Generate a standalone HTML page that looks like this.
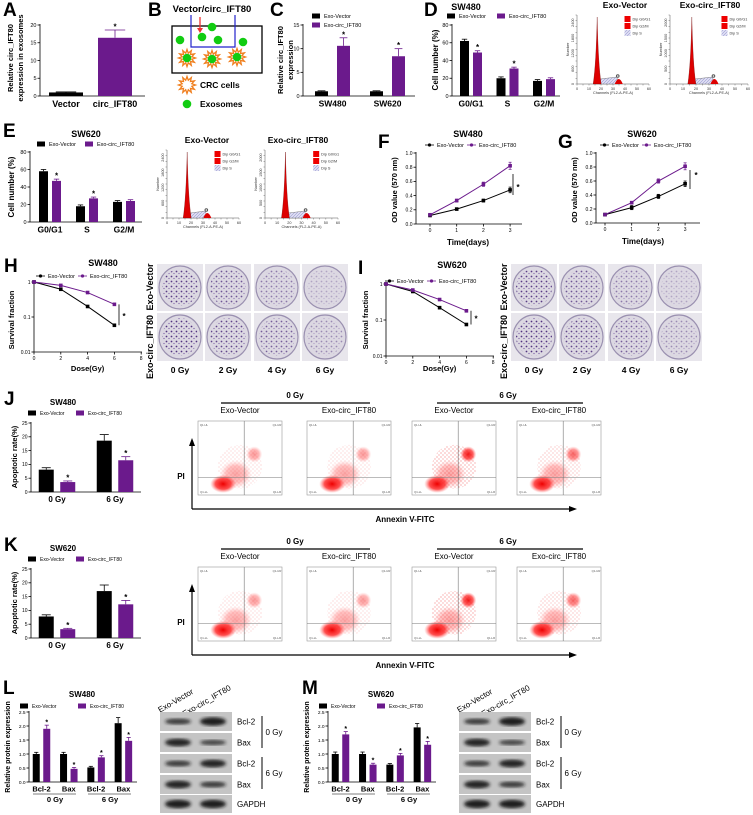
<!DOCTYPE html>
<html><head><meta charset="utf-8"><style>
html,body{margin:0;padding:0;background:#fff;}
svg{display:block;font-family:"Liberation Sans",Arial,sans-serif;}
</style></head><body>
<svg id="fig" width="753" height="815" viewBox="0 0 753 815" xmlns="http://www.w3.org/2000/svg">
<defs>
<filter id="blur1"><feGaussianBlur stdDeviation="1.6"/></filter>
<pattern id="col" width="5" height="5" patternUnits="userSpaceOnUse"><circle cx="1.5" cy="1.5" r="0.9" fill="#4a2a7a"/><circle cx="4" cy="3.5" r="0.6" fill="#6a4a9a"/></pattern>
<pattern id="hatch" width="3" height="3" patternUnits="userSpaceOnUse"><rect width="3" height="3" fill="#dcdcf2"/><path d="M0,3L3,0" stroke="#8a8ac8" stroke-width="0.5"/></pattern>
<pattern id="dots" width="4" height="4" patternUnits="userSpaceOnUse"><circle cx="1" cy="1" r="0.5" fill="#e22"/><circle cx="3" cy="3" r="0.45" fill="#e22"/></pattern>
<radialGradient id="redblob"><stop offset="0" stop-color="#e00" stop-opacity="1"/><stop offset="0.6" stop-color="#f22" stop-opacity="0.8"/><stop offset="1" stop-color="#f66" stop-opacity="0"/></radialGradient>
</defs>
</svg>
<script>
// ===== data =====
const aCats=["Vector","circ_IFT80"], aVals=[1,16.4], aErr=[0.15,2.2], aStars=[0,1];
const cCats=["SW480","SW620"], cVec=[1,1], cVecErr=[0.1,0.1], cCirc=[10.6,8.4], cCircErr=[1.7,1.6], cStars=[1,1];
const dCats=["G0/G1","S","G2/M"], dVec=[62,20,17], dVecErr=[2,1.5,1.5], dCirc=[49,31,19], dCircErr=[2,1.5,1.5], dStars=[1,1,0];
const eCats=["G0/G1","S","G2/M"], eVec=[58,18,23], eVecErr=[2,1.5,1.5], eCirc=[47,27,24], eCircErr=[2,1.5,1.5], eStars=[1,1,0];
const fDays=[0,1,2,3], fVec=[0.12,0.21,0.33,0.48], fVecErr=[0.01,0.01,0.02,0.04], fCirc=[0.13,0.33,0.56,0.82], fCircErr=[0.01,0.02,0.03,0.05];
const gDays=[0,1,2,3], gVec=[0.12,0.22,0.38,0.56], gVecErr=[0.01,0.03,0.03,0.04], gCirc=[0.12,0.29,0.6,0.81], gCircErr=[0.01,0.02,0.03,0.05];
const hDose=[0,2,4,6], hVec=[1,0.62,0.2,0.058], hCirc=[1,0.8,0.5,0.23];
const iDose=[0,2,4,6], iVec=[1,0.62,0.22,0.075], iCirc=[1,0.68,0.37,0.18];
const jCats=["0 Gy","6 Gy"], jVec=[8.1,18.6], jVecErr=[0.7,2.2], jCirc=[3.6,11.5], jCircErr=[0.4,1.3];
const kCats=["0 Gy","6 Gy"], kVec=[7.8,17], kVecErr=[0.6,2.2], kCirc=[3.2,12.2], kCircErr=[0.3,1.4];
const lCats=["Bcl-2","Bax","Bcl-2","Bax"], lVec=[1,1,0.52,2.1], lVecErr=[0.06,0.06,0.04,0.2], lCirc=[1.9,0.47,0.88,1.47], lCircErr=[0.13,0.05,0.06,0.12];
const mCats=["Bcl-2","Bax","Bcl-2","Bax"], mVec=[1,1,0.62,1.95], mVecErr=[0.07,0.07,0.04,0.14], mCirc=[1.7,0.62,0.95,1.33], mCircErr=[0.1,0.05,0.07,0.12];
const colonyDensity=[[0.9,0.75,0.55,0.3],[0.95,0.85,0.7,0.45]];
const PUR="#6b1a8c";
// ===== helpers =====
const NS='http://www.w3.org/2000/svg';
const svg=document.getElementById('fig');
function mk(tag,name,parent){
  const e=document.createElementNS(NS,tag);
  
  
  (parent||svg).appendChild(e);return e;}
function at(e,o){for(const k in o)e.setAttribute(k,o[k]);return e;}
function T(x,y,s,txt,name,o={}){const e=mk('text',name);at(e,{x:x,y:y,'font-size':s,'text-anchor':o.a||'middle','font-weight':o.w||'bold',fill:o.c||'#000'});
  if(o.r!==undefined)e.setAttribute('transform','rotate('+o.r+' '+x+' '+y+')');e.textContent=txt;return e;}
function L(x1,y1,x2,y2,name,sw,c){return at(mk('line',name),{x1:x1,y1:y1,x2:x2,y2:y2,stroke:c||'#000','stroke-width':sw||0.8});}
function R(x,y,w,h,fill,name){return at(mk('rect',name),{x:x,y:y,width:w,height:h,fill:fill});}
function C(x,y,r,fill,name){return at(mk('circle',name),{cx:x,cy:y,r:r,fill:fill});}
function letter(x,y,t){T(x,y,19,t,'panel-label-'+t.toLowerCase(),{a:'start'});}
function yAxis(ax,top,bot,min,max,ticks,fs,log,dec){
  const ys=v=>log?bot-(Math.log10(v)-Math.log10(min))/(Math.log10(max)-Math.log10(min))*(bot-top):bot-(v-min)/(max-min)*(bot-top);
  L(ax,top-1,ax,bot,'y-axis-line');
  ticks.forEach(t=>{const y=ys(t);L(ax-2.5,y,ax,y,'y-tick');T(ax-3.5,y+1.8,fs,dec?t.toFixed(dec):String(t),'y-tick-label',{a:'end',w:'normal'});});
  return ys;}
function legend(x,y,name1,name2,dx,fs,line,dy){
  [[name1,'#000'],[name2,PUR]].forEach((p,i)=>{const xx=x+i*dx, yy=y+i*(dy||0);
    if(line){L(xx,yy,xx+9,yy,'legend-line',0.8,p[1]);C(xx+4.5,yy,1.6,p[1],'legend-marker');}
    else R(xx,yy-2.5,8,5,p[1],'legend-swatch');
    T(xx+12,yy+2,fs,p[0],'legend-entry',{a:'start',w:'normal'});});}
function bars(c){
  const ys=yAxis(c.ax,c.top,c.bot,0,c.max,c.ticks,c.tfs||5.5,false,c.dec);
  L(c.ax,c.bot,c.ax+c.w,c.bot,'x-axis-line');
  c.series.forEach((s,si)=>{s.vals.forEach((v,i)=>{
    const cx=c.ax+c.off+i*c.gap+(si-(c.series.length-1)/2)*c.sep;
    const col=s.colors?s.colors[i]:s.color;
    const b=R(cx-c.bw/2,ys(v),c.bw,c.bot-ys(v),col,'bar');
    
    const ye=ys(v+s.err[i]);
    L(cx,ys(v),cx,ye,'error-bar',0.8,col);L(cx-c.bw*0.3,ye,cx+c.bw*0.3,ye,'error-cap',0.8,col);
    if(s.stars&&s.stars[i])T(cx,ye-0.5,c.sfs||8,'*','significance-star',{w:'bold'});
  });});
  c.cats.forEach((t,i)=>T(c.ax+c.off+i*c.gap,c.bot+c.lfs+2,c.lfs,t,'category-label'));
}
function lines(c){
  const ys=yAxis(c.ax,c.top,c.bot,c.min,c.max,c.ticks,5,c.log,c.dec);
  const xs=v=>c.x0+v*c.dx;
  L(c.ax,c.bot,c.xend,c.bot,'x-axis-line');
  c.xt.forEach(t=>{L(xs(t),c.bot,xs(t),c.bot+2.5,'x-tick');T(xs(t),c.bot+8,5,String(t),'x-tick-label',{w:'normal'});});
  c.series.forEach((s,si)=>{
    const pts=c.xv.map((x,i)=>xs(x)+','+ys(s.vals[i])).join(' ');
    at(mk('polyline',c.name+'-line-'+si),{points:pts,fill:'none',stroke:s.color,'stroke-width':1});
    c.xv.forEach((x,i)=>{
      if(s.err){const y1=ys(s.vals[i]+s.err[i]),y2=ys(s.vals[i]-s.err[i]);L(xs(x),y1,xs(x),y2,'error-bar',0.7,s.color);L(xs(x)-1.5,y1,xs(x)+1.5,y1,'error-cap',0.7,s.color);L(xs(x)-1.5,y2,xs(x)+1.5,y2,'error-cap',0.7,s.color);}
      const m=R(xs(x)-1.8,ys(s.vals[i])-1.8,3.6,3.6,s.color,'point');
      
    });});
  return {xs:xs,ys:ys};
}
// ===== A =====
letter(3,16,'A');
bars({name:'a',ax:40,top:25,bot:96,w:105,max:20,ticks:[0,5,10,15,20],off:26,gap:49,sep:0,bw:34,lfs:9,cats:aCats,
  series:[{vals:aVals,err:aErr,colors:['#000',PUR],stars:aStars}]});
T(13,58,7.5,'Relative circ_IFT80','y-axis-title',{r:-90});T(23,58,7.5,'expression in exosomes','y-axis-title',{r:-90});
// ===== B =====
letter(148,16,'B');
T(212,12,9.5,'Vector/circ_IFT80','insert-label');
at(mk('rect','culture-well'),{x:172,y:26,width:90,height:47,fill:'none',stroke:'#000','stroke-width':1.3});
at(mk('path','transwell-insert'),{d:'M191,15 V47 H235 V15',fill:'none',stroke:'#22c','stroke-width':1.2});
L(200,17,200,29,'red-arrow',1.3,'#e33');at(mk('path','arrow-head'),{d:'M197,28 L200,33 L203,28Z',fill:'#e33'});
[[180,40],[202,37],[212,27],[218,40],[243,42]].forEach(p=>C(p[0],p[1],4.3,'#1c1','exosome'));
function cell(x,y,name){let d='';for(let i=0;i<24;i++){const a=i*Math.PI/12,r=i%2?5:8.5;d+=(i?'L':'M')+(x+r*Math.cos(a)).toFixed(1)+','+(y+r*Math.sin(a)).toFixed(1);}
  at(mk('path',name),{d:d+'Z',fill:'#fff',stroke:'#f08020','stroke-width':1.3});}
[[187,58],[212,59],[237,57]].forEach(p=>{cell(p[0],p[1],'crc-cell');C(p[0],p[1],4.3,'#1c1','exosome');});
cell(187,85,'legend-crc-cell');T(200,88,8.5,'CRC cells','legend-crc-label',{a:'start'});
C(187,104,4.3,'#1c1','legend-exosome');T(200,107,8.5,'Exosomes','legend-exosome-label',{a:'start'});
// ===== C =====
letter(270,16,'C');
legend(312,16,'Exo-Vector','Exo-circ_IFT80',0,5.5,false,9);
bars({name:'c',ax:303,top:25,bot:96,w:112,max:15,ticks:[0,5,10,15],off:29.5,gap:55,sep:22,bw:13,lfs:8.5,cats:cCats,
  series:[{vals:cVec,err:cVecErr,color:'#000'},{vals:cCirc,err:cCircErr,color:PUR,stars:cStars}]});
T(283,60,7.5,'Relative circ_IFT80','y-axis-title',{r:-90});T(293,60,7.5,'expression','y-axis-title',{r:-90});
// ===== D =====
letter(424,16,'D');
T(466,10,9,'SW480','chart-title');
legend(447,16,'Exo-Vector','Exo-circ_IFT80',50,5.5,false);
bars({name:'d',ax:452,top:25,bot:96,w:108,max:80,ticks:[0,20,40,60,80],off:19,gap:36.5,sep:13,bw:9,lfs:8.5,cats:dCats,
  series:[{vals:dVec,err:dVecErr,color:'#000'},{vals:dCirc,err:dCircErr,color:PUR,stars:dStars}]});
T(438,60,8,'Cell number (%)','y-axis-title',{r:-90});
function hist(x0,y0,w,h,title,tx,ty,p1,p2,ylab){
  T(tx,ty,8.5,title,'histogram-title');
  L(x0,y0,x0,y0+h,'hist-y-axis',0.5,'#555');L(x0,y0+h,x0+w,y0+h,'hist-x-axis',0.5,'#555');
  for(let i=0;i<=12;i++){L(x0+i*w/12,y0+h,x0+i*w/12,y0+h+1.5,'hist-tick',0.4,'#555');}
  for(let i=0;i<=12;i++){L(x0-1.5,y0+i*h/12,x0,y0+i*h/12,'hist-tick',0.4,'#555');}
  ['0','10','20','30','40','50','60'].forEach((t,i)=>T(x0+i*w/6,y0+h+6,3.8,t,'hist-x-label',{w:'normal',c:'#333'}));
  T(x0+w/2,y0+h+10,3.8,'Channels (FL2-A-PE-A)','hist-x-title',{w:'normal',c:'#333'});
  ylab.forEach((t,i)=>T(x0-3,y0+h-i*h/4.5,3.8,t,'hist-y-label',{w:'normal',c:'#333',r:-90}));
  T(x0-8,y0+h/2,3.8,'Number','hist-y-title',{w:'normal',c:'#333',r:-90});
  const bx=x0+p1*w, bx2=x0+p2*w, by=y0+h;
  at(mk('path','s-phase-area'),{d:'M'+(bx+2)+','+by+' L'+(bx+3)+','+(by-5)+' L'+(bx2-2)+','+(by-7)+' L'+bx2+','+by+'Z',fill:'url(#hatch)',stroke:'#666','stroke-width':0.4});
  at(mk('path','g0g1-peak'),{d:'M'+(bx-4)+','+by+' Q'+(bx-1)+','+(by-20)+' '+bx+','+(y0+2)+' Q'+(bx+1)+','+(by-20)+' '+(bx+4)+','+by+'Z',fill:'#d00',stroke:'#600','stroke-width':0.3});
  at(mk('path','g2m-peak'),{d:'M'+(bx2-4)+','+by+' Q'+bx2+','+(by-10)+' '+(bx2+4)+','+by+'Z',fill:'#d00'});
  C(bx2-1,by-8,1.3,'#fff','peak-marker').setAttribute('stroke','#555');
  const lx=x0+w*0.66;
  [['Dip G0/G1','#e00'],['Dip G2/M','#e00'],['Dip S','url(#hatch)']].forEach((p,i)=>{R(lx,y0+1+i*7,6,6,p[1],'hist-legend-swatch');T(lx+8,y0+5.5+i*7,3.8,p[0],'hist-legend-label',{a:'start',w:'normal',c:'#333'});});
}
hist(577,15,72,69,'Exo-Vector',625,8,0.28,0.58,['0','600','1200','1800','2400']);
hist(670,15,78,69,'Exo-circ_IFT80',710,8,0.28,0.57,['0','500','1000','1500','2000']);
// ===== E =====
letter(3,137,'E');
T(86,137,9,'SW620','chart-title');
legend(37,144,'Exo-Vector','Exo-circ_IFT80',48,5.5,false);
bars({name:'e',ax:30,top:152,bot:222,w:112,max:80,ticks:[0,20,40,60,80],off:20,gap:37,sep:13,bw:9,lfs:8.5,cats:eCats,
  series:[{vals:eVec,err:eVecErr,color:'#000'},{vals:eCirc,err:eCircErr,color:PUR,stars:eStars}]});
T(14,187,8,'Cell number (%)','y-axis-title',{r:-90});
hist(167,150,72,68,'Exo-Vector',207,143,0.28,0.56,['0','600','1200','1800','2400']);
hist(265,150,73,68,'Exo-circ_IFT80',298,143,0.28,0.57,['0','500','1000','1500','2000']);
// ===== F =====
letter(378,148,'F');
T(468,137,9,'SW480','chart-title');
legend(425,145,'Exo-Vector','Exo-circ_IFT80',42,5.5,true);
lines({name:'f',ax:416,top:153,bot:224,min:0,max:1,dec:1,ticks:[0,0.2,0.4,0.6,0.8,1.0],x0:430,dx:26.7,xend:522,xt:[0,1,2,3],xv:fDays,
  series:[{vals:fVec,err:fVecErr,color:'#000'},{vals:fCirc,err:fCircErr,color:PUR}]});
L(513,195,513,174,'significance-bracket');T(518,190,8,'*','significance-star');
T(468,245,8,'Time(days)','x-axis-title');T(397,190,7.5,'OD value (570 nm)','y-axis-title',{r:-90});
// ===== G =====
letter(558,148,'G');
T(642,137,9,'SW620','chart-title');
legend(600,145,'Exo-Vector','Exo-circ_IFT80',42,5.5,true);
lines({name:'g',ax:596,top:153,bot:223,min:0,max:1,dec:1,ticks:[0,0.2,0.4,0.6,0.8,1.0],x0:605,dx:26.7,xend:700,xt:[0,1,2,3],xv:gDays,
  series:[{vals:gVec,err:gVecErr,color:'#000'},{vals:gCirc,err:gCircErr,color:PUR}]});
L(690,189,690,170,'significance-bracket');T(696,178,8,'*','significance-star');
T(643,244,8,'Time(days)','x-axis-title');T(577,190,7.5,'OD value (570 nm)','y-axis-title',{r:-90});
// ===== H / I =====
function survival(nm,ax,top,bot,xend,dx,vec,circ,dose,title,tx,ty,lx,ly,starX,yTitleX){
  T(tx,ty,9,title,'chart-title');
  legend(lx,ly,'Exo-Vector','Exo-circ_IFT80',42,5.5,true);
  const s=lines({name:nm,ax:ax,top:top,bot:bot,min:0.01,max:1,log:true,ticks:[0.01,0.1,1],x0:ax,dx:dx,xend:xend,xt:[0,2,4,6,8],xv:dose,
    series:[{vals:vec,color:'#000'},{vals:circ,color:PUR}]});
  L(starX,s.ys(circ[3]),starX,s.ys(vec[3]),'significance-bracket');T(starX+5,(s.ys(circ[3])+s.ys(vec[3]))/2+4,8,'*','significance-star');
  T(ax+4*dx,371,7.5,'Dose(Gy)','x-axis-title');T(yTitleX,320,7.5,'Survival fraction','y-axis-title',{r:-90});
}
letter(4,272,'H');
survival('h',34,282,352,142,13.4,hVec,hCirc,hDose,'SW480',103,266,36,276,119,14);
letter(358,274,'I');
survival('i',386,284,356,494,13.4,iVec,iCirc,iDose,'SW620',452,268,385,281,471,368);
function plates(x0,lblX){
  const xs=[0,48,97,145];
  [0,1].forEach(r=>xs.forEach((dx,i)=>{
    const x=x0+dx,y=r?313:264,w=46,h=r?48:47;
    R(x,y,w,h,'#e8e6ec','plate-tile');
    at(mk('ellipse','culture-dish'),{cx:x+w/2,cy:y+h/2,rx:w/2-2,ry:h/2-2,fill:'#dcd8e2',stroke:'#9a90b0','stroke-width':1.2});
    const e=at(mk('ellipse','colonies'),{cx:x+w/2,cy:y+h/2,rx:w/2-5,ry:h/2-5,fill:'url(#col)'});
    e.setAttribute('opacity',colonyDensity[r][i]);
  }));
  T(lblX,287,9,'Exo-Vector','row-label',{r:-90});T(lblX,347,9,'Exo-circ_IFT80','row-label',{r:-90});
  ['0 Gy','2 Gy','4 Gy','6 Gy'].forEach((t,i)=>T(x0+xs[i]+23,373,8.5,t,'dose-label'));
}
plates(157,153);plates(511,507);
// ===== J / K =====
function apop(nm,dy,title,vec,vErr,circ,cErr,cats){
  letter(4,405+dy,nm.toUpperCase());
  T(63,405+dy,8,title,'chart-title');
  legend(28,413+dy,'Exo-Vector','Exo-circ_IFT80',48,5,false);
  bars({name:nm,ax:31,top:423+dy,bot:492+dy,w:110,max:25,ticks:[0,5,10,15,20,25],tfs:5,off:26,gap:58,sep:21.5,bw:15,lfs:8,cats:cats,
    series:[{vals:vec,err:vErr,color:'#000'},{vals:circ,err:cErr,color:PUR,stars:[1,1]}]});
  T(17,457+dy,7.5,'Apoptotic rate(%)','y-axis-title',{r:-90});
  T(295,398+dy,8,'0 Gy','group-header');L(221,403+dy,370,403+dy,'group-line',1.2);
  T(508,398+dy,8,'6 Gy','group-header');L(437,403+dy,583,403+dy,'group-line',1.2);
  const boxes=[198,307,412,517], subs=['Exo-Vector','Exo-circ_IFT80','Exo-Vector','Exo-circ_IFT80'];
  boxes.forEach((x,i)=>{
    T(x+42,413+dy,8,subs[i],'condition-label',{w:'normal'});
    const y=421+dy,w=84,h=74;
    at(mk('rect','flow-plot-frame'),{x:x,y:y,width:w,height:h,fill:'#fff',stroke:'#999','stroke-width':0.6});
    const up=(i===2)?0.9:(i===3?0.6:0.4);
    at(mk('ellipse','scatter-dots'),{cx:x+w*0.5,cy:y+h*0.62,rx:22,ry:22,fill:'url(#dots)',opacity:up});
    at(mk('ellipse','cell-population'),{cx:x+w*0.3,cy:y+h*0.85,rx:13,ry:9,fill:'url(#redblob)'});
    at(mk('ellipse','cell-population-spread'),{cx:x+w*0.45,cy:y+h*0.72,rx:16,ry:14,fill:'url(#redblob)',opacity:0.35});
    at(mk('ellipse','late-apoptotic-population'),{cx:x+w*0.67,cy:y+h*0.45,rx:8,ry:8,fill:'url(#redblob)',opacity:up});
    L(x+w*0.55,y,x+w*0.55,y+h,'quadrant-gate',0.6,'#777');L(x,y+h*0.76,x+w,y+h*0.76,'quadrant-gate',0.6,'#777');
    T(x+6,y+5,2.8,'Q1-UL','quadrant-label',{w:'normal',c:'#555'});T(x+w-5,y+5,2.8,'Q1-UR','quadrant-label',{w:'normal',c:'#555'});
    T(x+6,y+h-2,2.8,'Q1-LL','quadrant-label',{w:'normal',c:'#555'});T(x+w-5,y+h-2,2.8,'Q1-LR','quadrant-label',{w:'normal',c:'#555'});
  });
  T(181,479+dy,8,'PI','y-axis-title');
  L(192,509+dy,192,444+dy,'pi-arrow',1.2);
  at(mk('path','pi-arrow-head'),{d:'M189,'+(446+dy)+' L192,'+(438+dy)+' L195,'+(446+dy)+'Z',fill:'#000'});
  L(192,509+dy,570,509+dy,'annexin-arrow',1.2);
  at(mk('path','annexin-arrow-head'),{d:'M569,'+(506+dy)+' L577,'+(509+dy)+' L569,'+(512+dy)+'Z',fill:'#000'});
  T(405,522+dy,8,'Annexin V-FITC','x-axis-title');
}
apop('j',0,'SW480',jVec,jVecErr,jCirc,jCircErr,jCats);
apop('k',146,'SW620',kVec,kVecErr,kCirc,kCircErr,kCats);
// ===== L / M =====
function protein(nm,ox,title,vec,vErr,circ,cErr,cats,bands){
  letter(ox+3,694,nm.toUpperCase());
  T(ox+82,697,8,title,'chart-title');
  legend(ox+20,706,'Exo-Vector','Exo-circ_IFT80',58,5,false);
  bars({name:nm,ax:ox+29,top:712,bot:782,w:108,max:2.5,dec:1,ticks:[0,0.5,1.0,1.5,2.0,2.5],tfs:4.8,off:12.5,gap:27.3,sep:10.5,bw:7,lfs:7.5,cats:cats,sfs:7,
    series:[{vals:vec,err:vErr,color:'#000'},{vals:circ,err:cErr,color:PUR,stars:[1,1,1,1]}]});
  T(ox+10,747,7,'Relative protein expression','y-axis-title',{r:-90});
  L(ox+33,794,ox+76,794,'group-underline',0.6);L(ox+88,794,ox+131,794,'group-underline',0.6);
  T(ox+55,802,7.5,'0 Gy','group-label');T(ox+110,802,7.5,'6 Gy','group-label');
  const bx=ox+160,bw=72, rows=[[712,19],[733,19],[754,19],[775,19],[795,18]], lab=['Bcl-2','Bax','Bcl-2','Bax','GAPDH'];
  T(bx+17,703,8,'Exo-Vector','blot-lane-label',{w:'normal',r:-30});
  T(bx+48,703,8,'Exo-circ_IFT80','blot-lane-label',{w:'normal',r:-30});
  rows.forEach((r,i)=>{
    R(bx,r[0],bw,r[1],'#c4c4c4','blot-strip');
    [0,1].forEach(k=>{const e=at(mk('ellipse','protein-band'),{cx:bx+18+k*35,cy:r[0]+r[1]/2,rx:13,ry:3.2*bands[i][k]+1,fill:'#181818',filter:'url(#blur1)'});e.setAttribute('opacity',0.55+0.4*bands[i][k]);});
    T(bx+77,r[0]+r[1]/2+3,8,lab[i],'blot-row-label',{a:'start',w:'normal'});
  });
  L(bx+102,716,bx+102,748,'dose-bracket',1);T(bx+114,735,8,'0 Gy','dose-bracket-label',{w:'normal'});
  L(bx+102,757,bx+102,789,'dose-bracket',1);T(bx+114,776,8,'6 Gy','dose-bracket-label',{w:'normal'});
}
protein('l',0,'SW480',lVec,lVecErr,lCirc,lCircErr,lCats,[[0.6,1],[0.9,0.5],[0.6,0.9],[0.9,0.6],[1,1]]);
protein('m',299,'SW620',mVec,mVecErr,mCirc,mCircErr,mCats,[[0.6,1],[0.9,0.5],[0.6,0.9],[0.9,0.6],[1,1]]);
</script>
</body></html>
